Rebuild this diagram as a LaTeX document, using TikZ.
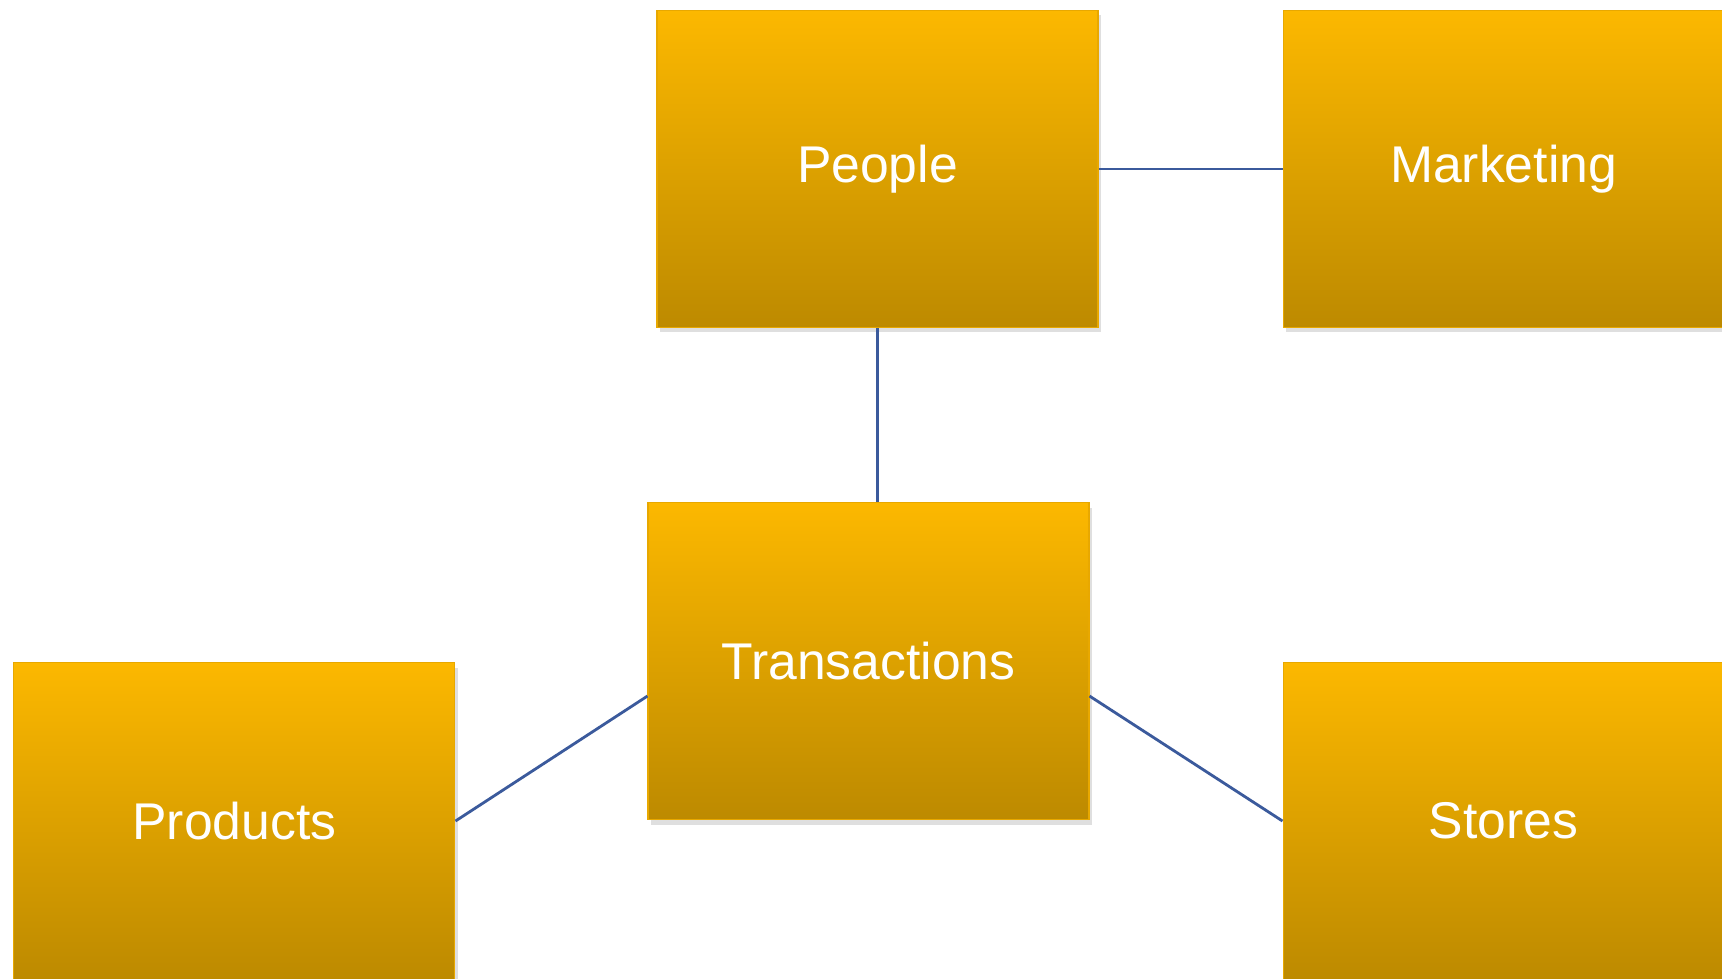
\documentclass[tikz,border=0pt]{standalone}
\usepackage{fontspec}
\setmainfont{Liberation Sans}
\usepackage{tikz}
\usetikzlibrary{positioning, shadows}
\definecolor{BoxTop}{HTML}{FCB800}
\definecolor{BoxBottom}{HTML}{BD8A00}
\definecolor{BoxEdge}{HTML}{E8A800}
\definecolor{LinkBlue}{HTML}{3B5A9C}

\begin{document}
\begin{tikzpicture}[
      node distance=1.74cm and 1.84cm,
      entity/.style={draw=BoxEdge, line width=0.3pt, top color=BoxTop, bottom color=BoxBottom, minimum width=4.41cm, minimum height=3.17cm, inner sep=0pt, text=white, font=\fontsize{14.7}{17}\selectfont, drop shadow={shadow xshift=0.03cm, shadow yshift=-0.05cm, opacity=0.25}},
      link/.style={LinkBlue, line width=0.8pt}
    ]
      \useasboundingbox[fill=white] (0,0) rectangle (17.22,9.79);
      \node[entity] (people) at (8.775,8.10) {People};
      \node[entity, right=of people] (marketing) {Marketing};
      \node[entity, below=of people, xshift=-0.09cm] (trans) {Transactions};
      \node[entity, left=1.92cm of trans, yshift=-1.6cm] (products) {Products};
      \node[entity, right=1.93cm of trans, yshift=-1.6cm] (stores) {Stores};
      \draw[link] (people) -- (marketing);
      \draw[link] (people.south) -- (people.south |- trans.north);
      \draw[link] (products.east) -- ([yshift=-0.35cm]trans.west);
      \draw[link] ([yshift=-0.35cm]trans.east) -- (stores.west);
    \end{tikzpicture}
\end{document}
